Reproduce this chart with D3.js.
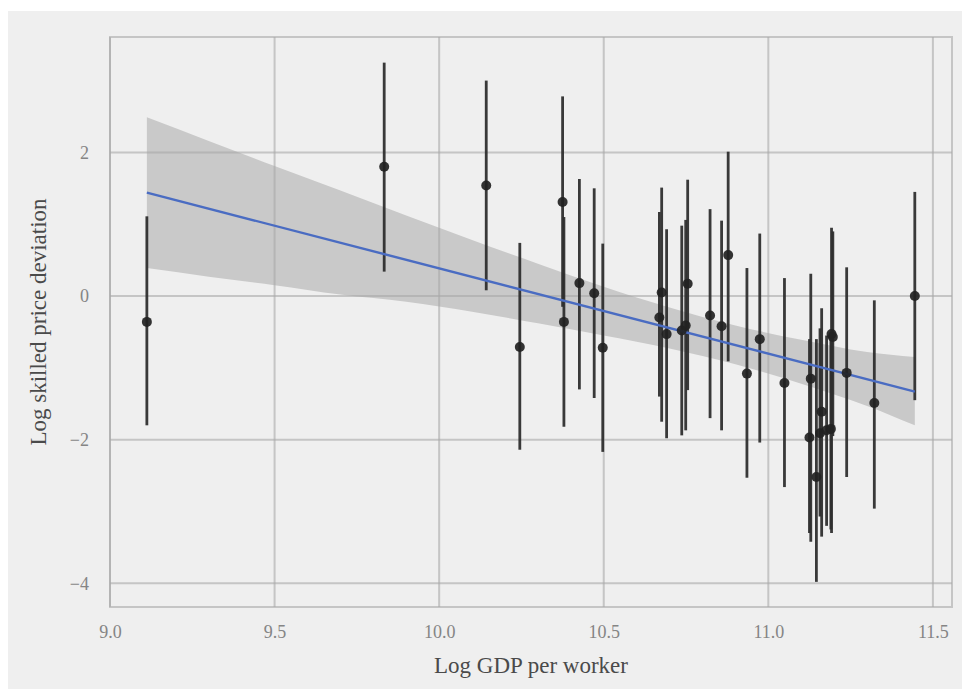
<!DOCTYPE html>
<html>
<head>
<meta charset="utf-8">
<script src="https://cdn.jsdelivr.net/npm/d3@7"></script>
<style>
  html, body { margin: 0; padding: 0; background: #ffffff; }
  svg { display: block; }
</style>
</head>
<body>
<script>
// ---- data ----
const gdp = [9.112, 9.833, 10.143, 10.245, 10.375, 10.379, 10.426, 10.471, 10.497,
  10.676, 10.669, 10.691, 10.737, 10.749, 10.755, 10.823, 10.858, 10.878,
  10.935, 10.974, 11.049, 11.129, 11.125, 11.146, 11.157, 11.162, 11.177,
  11.192, 11.196, 11.190, 11.238, 11.322, 11.445];
const deviation = [-0.36, 1.80, 1.54, -0.71, 1.31, -0.36, 0.18, 0.04, -0.72,
  0.05, -0.30, -0.53, -0.48, -0.41, 0.17, -0.27, -0.42, 0.57,
  -1.08, -0.60, -1.21, -1.15, -1.97, -2.52, -1.91, -1.61, -1.87,
  -0.53, -0.57, -1.85, -1.07, -1.49, 0.00];
const errLow = [-1.80, 0.34, 0.08, -2.14, -0.15, -1.82, -1.30, -1.42, -2.17,
  -1.75, -1.40, -1.98, -1.94, -1.87, -1.31, -1.70, -1.87, -0.91,
  -2.53, -2.04, -2.66, -3.42, -3.30, -3.98, -3.07, -3.35, -3.20,
  -3.30, -1.95, -3.25, -2.52, -2.96, -1.45];
const errHigh = [1.11, 3.25, 3.00, 0.74, 2.78, 1.10, 1.63, 1.50, 0.73,
  1.51, 1.17, 0.93, 0.98, 1.06, 1.62, 1.21, 1.05, 2.01,
  0.39, 0.87, 0.25, 0.31, -0.60, -0.60, -0.45, -0.17, -0.55,
  0.95, 0.90, -0.50, 0.40, -0.06, 1.45];

// regression fit line and confidence band
const fitX = [9.112, 11.445];
const fitY = [1.44, -1.33];
const bandX    = [9.112, 9.3, 9.5, 9.7, 9.9, 10.1, 10.3, 10.5, 10.7, 10.9, 11.1, 11.3, 11.445];
const bandLow  = [0.39, 0.27, 0.15, 0.02, -0.08, -0.22, -0.38, -0.55, -0.73, -0.95, -1.22, -1.53, -1.80];
const bandHigh = [2.49, 2.16, 1.81, 1.47, 1.12, 0.78, 0.45, 0.13, -0.16, -0.41, -0.61, -0.78, -0.85];

const xTicks = [9.0, 9.5, 10.0, 10.5, 11.0, 11.5];
const yTicks = [-4, -2, 0, 2];
const xTitle = "Log GDP per worker";
const yTitle = "Log skilled price deviation";

// ---- drawing ----
const W = 962, H = 689;
const plot = { left: 110, top: 37, right: 952, bottom: 607 };
const serif = "'Liberation Serif', 'DejaVu Serif', serif";

const svg = d3.select("body").append("svg").attr("width", W).attr("height", H);

svg.append("rect").attr("x", 8).attr("y", 11).attr("width", W - 8).attr("height", H - 11)
  .attr("fill", "#efefef");

const x = d3.scaleLinear().domain([9.0, 11.558]).range([plot.left, plot.right]);
const y = d3.scaleLinear().domain([-4.33, 3.607]).range([plot.bottom, plot.top]);

// band
const band = bandX.map((v, i) => ({ x: v, lo: bandLow[i], hi: bandHigh[i] }));
svg.append("path").datum(band)
  .attr("d", d3.area().x(d => x(d.x)).y0(d => y(d.lo)).y1(d => y(d.hi)).curve(d3.curveMonotoneX))
  .attr("fill", "#c9c9c9");

// grid
const gridColor = "#a8a8a8";
const grid = svg.append("g").attr("stroke", gridColor).attr("stroke-opacity", 0.6).attr("stroke-width", 2);
grid.selectAll("line.gx").data(xTicks).join("line")
  .attr("x1", d => x(d)).attr("x2", d => x(d)).attr("y1", plot.top).attr("y2", plot.bottom);
grid.selectAll("line.gy").data(yTicks).join("line")
  .attr("y1", d => y(d)).attr("y2", d => y(d)).attr("x1", plot.left).attr("x2", plot.right);
grid.append("rect").attr("x", plot.left).attr("y", plot.top)
  .attr("width", plot.right - plot.left).attr("height", plot.bottom - plot.top).attr("fill", "none");

// error bars
const pts = gdp.map((v, i) => ({ x: v, y: deviation[i], lo: errLow[i], hi: errHigh[i] }));
svg.append("g").selectAll("line").data(pts).join("line")
  .attr("x1", d => x(d.x)).attr("x2", d => x(d.x))
  .attr("y1", d => y(d.lo)).attr("y2", d => y(d.hi))
  .attr("stroke", "#2e2e2e").attr("stroke-width", 2.8).attr("stroke-opacity", 0.95);

// fit line
svg.append("path").datum(fitX.map((v, i) => [v, fitY[i]]))
  .attr("d", d3.line().x(d => x(d[0])).y(d => y(d[1])))
  .attr("stroke", "#4a6cc2").attr("stroke-width", 2.4).attr("fill", "none");

// points
svg.append("g").selectAll("circle").data(pts).join("circle")
  .attr("cx", d => x(d.x)).attr("cy", d => y(d.y)).attr("r", 5)
  .attr("fill", "#222222").attr("fill-opacity", 0.92);

// axes (tick labels only)
const xAxis = d3.axisBottom(x).tickValues(xTicks).tickFormat(d3.format(".1f")).tickSize(0).tickPadding(18);
const gx = svg.append("g").attr("transform", `translate(0,${plot.bottom})`).call(xAxis);
gx.select(".domain").remove();
gx.selectAll("text").attr("font-family", serif).attr("font-size", 18).attr("fill", "#858585");

const yAxis = d3.axisLeft(y).tickValues(yTicks).tickFormat(d => d3.format("d")(d).replace("-", "\u2212")).tickSize(0).tickPadding(21);
const gy = svg.append("g").attr("transform", `translate(${plot.left},0)`).call(yAxis);
gy.select(".domain").remove();
gy.selectAll("text").attr("font-family", serif).attr("font-size", 18).attr("fill", "#858585");

// titles
svg.append("text").attr("x", (plot.left + plot.right) / 2).attr("y", 673)
  .attr("text-anchor", "middle").attr("font-family", serif).attr("font-size", 23)
  .attr("fill", "#4a4a4a").text(xTitle);
svg.append("text").attr("transform", `translate(46,${(plot.top + plot.bottom) / 2}) rotate(-90)`)
  .attr("text-anchor", "middle").attr("font-family", serif).attr("font-size", 23)
  .attr("fill", "#4a4a4a").text(yTitle);
</script>
</body>
</html>
